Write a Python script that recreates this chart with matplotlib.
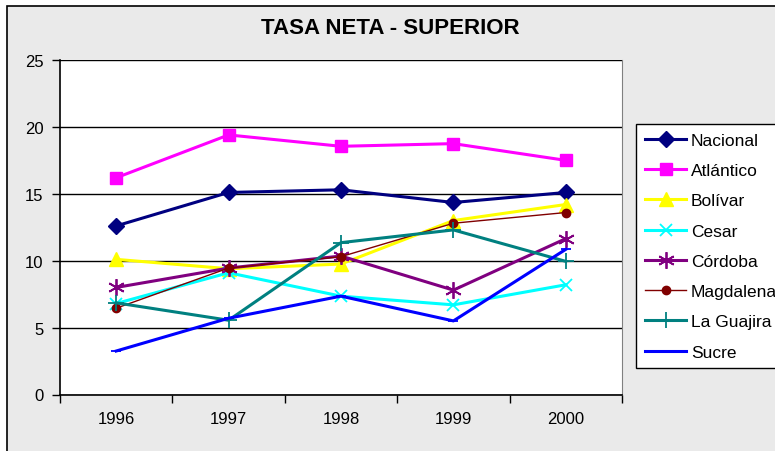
import numpy as np
import matplotlib.pyplot as plt
from matplotlib.patches import Rectangle

plt.rcParams['font.family'] = ['Liberation Sans', 'DejaVu Sans']

years = ['1996', '1997', '1998', '1999', '2000']
nacional = [12.6, 15.1, 15.3, 14.35, 15.1]
atlantico = [16.2, 19.4, 18.55, 18.75, 17.5]
bolivar = [10.1, 9.4, 9.75, 13.0, 14.2]
cesar = [6.8, 9.1, 7.35, 6.7, 8.2]
cordoba = [8.0, 9.45, 10.35, 7.8, 11.65]
magdalena = [6.45, 9.45, 10.3, 12.8, 13.6]
la_guajira = [6.85, 5.55, 11.35, 12.3, 9.95]
sucre = [3.25, 5.7, 7.35, 5.5, 10.85]

series = [
    ('Nacional', nacional, '#000080', 'D', 8, 2.2),
    ('Atlántico', atlantico, '#FF00FF', 's', 9, 2.2),
    ('Bolívar', bolivar, '#FFFF00', '^', 10, 2.2),
    ('Cesar', cesar, '#00FFFF', 'x', 9, 2.2),
    ('Córdoba', cordoba, '#800080', (6, 2, 0), 12, 2.2),
    ('Magdalena', magdalena, '#800000', 'o', 6, 1.0),
    ('La Guajira', la_guajira, '#008080', '+', 12, 2.2),
    ('Sucre', sucre, '#0000FF', '_', 7, 2.2),
]

W, H = 775, 452
fig = plt.figure(figsize=(W / 100, H / 100), dpi=100)
fig.patch.set_facecolor('white')
bg = Rectangle((7 / W, -0.05), 1.1, 1 - 7 / H + 0.05,
               transform=fig.transFigure, facecolor='#EAEAEA',
               edgecolor='black', linewidth=1.2, zorder=-10)
fig.patches.append(bg)

ax = fig.add_axes([60 / W, 1 - 395.5 / H, 562 / W, 334.5 / H])
ax.set_zorder(2)
ax.set_facecolor('white')

x = np.arange(len(years))
for name, vals, col, mk, ms, lw in series:
    ax.plot(x, vals, color=col, marker=mk, markersize=ms, linewidth=lw,
            markeredgewidth=1.3 if mk in ('x', '+', '_') or isinstance(mk, tuple) else 1,
            markeredgecolor=col, markerfacecolor=col, label=name, zorder=3)

ax.set_xlim(-0.5, len(years) - 0.5)
ax.set_ylim(0, 25)
ax.set_yticks(range(0, 26, 5))
ax.yaxis.grid(True, color='black', linewidth=1)
ax.set_axisbelow(True)
ax.set_xticks(np.arange(-0.5, len(years), 1.0))
ax.set_xticklabels([])
ax.set_xticks(x, minor=True)
ax.set_xticklabels(years, minor=True)
ax.tick_params(axis='x', which='minor', length=0, pad=12, labelsize=12)
ax.tick_params(axis='x', which='major', length=6, width=1, direction='out')
ax.tick_params(axis='y', length=6, width=1, direction='out', labelsize=12, pad=6)
ax.spines['top'].set_visible(False)
ax.spines['right'].set_color('#808080')
ax.spines['left'].set_linewidth(1.2)
ax.spines['bottom'].set_linewidth(1.2)

fig.text(390 / W, 1 - 28 / H, 'TASA NETA - SUPERIOR', ha='center', va='center',
         fontsize=16, fontweight='bold')

leg = fig.legend(loc='upper left', bbox_to_anchor=(636 / W, 1 - 125 / H),
                 bbox_transform=fig.transFigure, borderaxespad=0, fontsize=12.5,
                 frameon=True, fancybox=False, edgecolor='black', facecolor='white',
                 framealpha=1, handlelength=2.4, handletextpad=0.25,
                 labelspacing=0.87, borderpad=0.5)
leg.get_frame().set_linewidth(1)
leg.set_zorder(5)

fig.savefig('out.png', dpi=100)
